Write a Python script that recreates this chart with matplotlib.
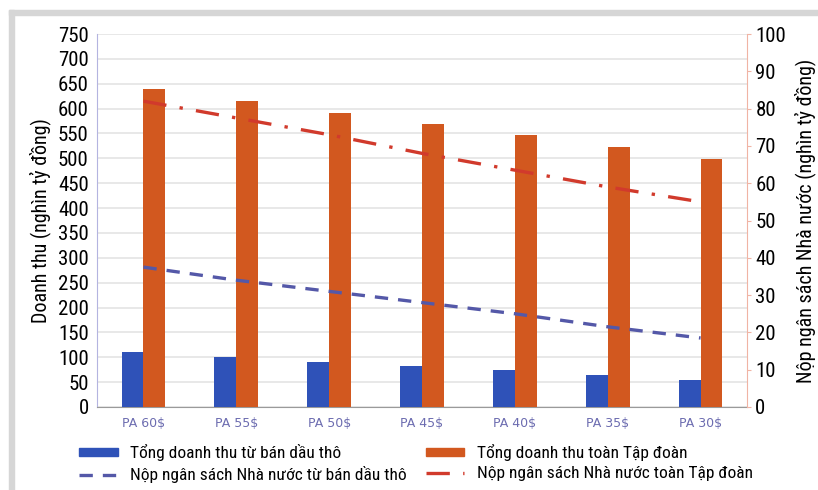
import matplotlib
matplotlib.use("Agg")
import matplotlib.pyplot as plt
from matplotlib.patches import Patch, Rectangle
from matplotlib.lines import Line2D
import numpy as np

plt.rcParams['font.family'] = ['Roboto Condensed', 'DejaVu Sans']

# data
categories = ['PA 60$', 'PA 55$', 'PA 50$', 'PA 45$', 'PA 40$', 'PA 35$', 'PA 30$']
rev_crude = [110, 100, 90, 82, 74, 64, 54]             # Tổng doanh thu từ bán dầu thô
rev_group = [640, 616, 592, 569, 547, 523, 499]        # Tổng doanh thu toàn Tập đoàn
budget_crude = [37.5, 34, 31, 28, 25, 21.5, 18.5]      # Nộp NS từ bán dầu thô (trục phải)
budget_group = [82, 77.5, 73, 68, 63.5, 59, 55]        # Nộp NS toàn Tập đoàn (trục phải)

c_blue = '#2f52b8'
c_orange = '#d2581f'
c_line_blue = '#5458a8'
c_line_red = '#d13a2c'

fig = plt.figure(figsize=(8.18, 4.9), dpi=100)
# grey frame (top + left)
fig.patches.append(Rectangle((0.011, 0.0), 0.006, 0.98, transform=fig.transFigure,
                             color='#d6d6d6', zorder=0))
fig.patches.append(Rectangle((0.011, 0.969), 0.989, 0.011, transform=fig.transFigure,
                             color='#d6d6d6', zorder=0))

ax = fig.add_axes([0.1186, 0.1694, 0.7946, 0.7612])
x = np.arange(len(categories))
w = 0.235
ax.bar(x - w / 2, rev_crude, w, color=c_blue, zorder=3)
ax.bar(x + w / 2, rev_group, w, color=c_orange, zorder=3)

ax.set_xlim(-0.5, len(categories) - 0.5)
ax.set_ylim(0, 750)
ax.set_yticks(range(0, 751, 50))
ax.yaxis.grid(True, color='#e4e4e4', linewidth=1.2, zorder=0)
ax.set_axisbelow(True)
ax.tick_params(axis='y', length=0, labelsize=15, pad=6)
ax.set_xticks(x)
ax.set_xticklabels(categories, fontsize=9, color='#6c6cb0', family='DejaVu Sans')
ax.tick_params(axis='x', length=0, pad=7)
ax.set_ylabel('Doanh thu (nghìn tỷ đồng)', fontsize=14.5, labelpad=5)

ax.spines['top'].set_visible(False)
ax.spines['left'].set_color('#b4b4e0')
ax.spines['bottom'].set_color('#9a9a9a')
ax.spines['right'].set_visible(False)

ax2 = ax.twinx()
ax2.plot(x, budget_crude, color=c_line_blue, linewidth=2.4, dashes=(4, 3), zorder=4)
ax2.plot(x, budget_group, color=c_line_red, linewidth=2.4, dashes=(7, 4, 1, 4), zorder=4)
ax2.set_ylim(0, 100)
ax2.set_yticks(range(0, 101, 10))
ax2.tick_params(axis='y', length=3, color='#f0b4a4', labelsize=15, pad=3)
ax2.set_ylabel('Nộp ngân sách Nhà nước (nghìn tỷ đồng)', fontsize=14.5, labelpad=6)
ax2.spines['top'].set_visible(False)
ax2.spines['left'].set_visible(False)
ax2.spines['bottom'].set_visible(False)
ax2.spines['right'].set_color('#f0b4a4')

handles = [
    Patch(color=c_blue, label='Tổng doanh thu từ bán dầu thô'),
    Line2D([], [], color=c_line_blue, linewidth=2.4, dashes=(4, 3),
           label='Nộp ngân sách Nhà nước từ bán dầu thô'),
    Patch(color=c_orange, label='Tổng doanh thu toàn Tập đoàn'),
    Line2D([], [], color=c_line_red, linewidth=2.4, dashes=(7, 4, 1, 4),
           label='Nộp ngân sách Nhà nước toàn Tập đoàn'),
]
fig.legend(handles=handles, ncol=2, loc='upper left', bbox_to_anchor=(0.097, 0.094),
           frameon=False, fontsize=12.5, handlelength=2.2, handleheight=0.35,
           columnspacing=1.15, labelspacing=0.3, handletextpad=0.7,
           borderpad=0, borderaxespad=0)

fig.savefig('out.png', dpi=100, facecolor='white')
